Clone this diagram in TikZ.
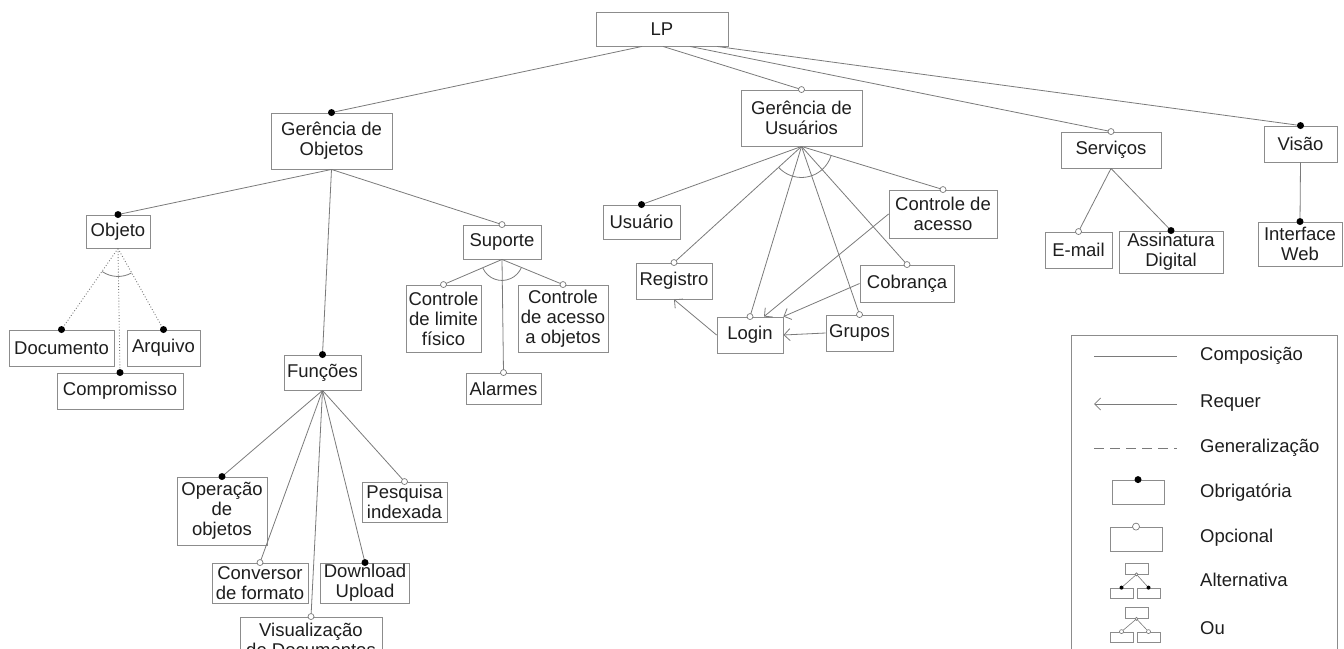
\documentclass[tikz,border=0pt]{standalone}
\usepackage{fontspec}
\setmainfont{Liberation Sans}
\usetikzlibrary{arrows.meta,calc}
\definecolor{edgegray}{HTML}{7A7A7A}
\definecolor{framegray}{HTML}{8C8C8C}
\definecolor{ink}{HTML}{1E1E1E}
\begin{document}
\begin{tikzpicture}[x=1pt,y=-1pt,
  feat/.style={draw=framegray, line width=0.9pt, fill=white, inner sep=0pt,
    align=center, text=ink, font=\fontsize{18.5}{20}\selectfont},
  mini/.style={draw=framegray, line width=0.8pt, fill=white, inner sep=0pt},
  comp/.style={draw=edgegray, line width=0.8pt},
  gen/.style={draw=edgegray, line width=0.9pt, dotted},
  req/.style={draw=edgegray, line width=0.8pt, -{Straight Barb[length=6pt,width=12pt]}},
  grp/.style={draw=edgegray, line width=0.8pt},
  mand/.style={circle, fill=black, inner sep=0pt, minimum size=7pt},
  opt/.style={circle, draw=edgegray, fill=white, inner sep=0pt, minimum size=6pt, line width=0.7pt},
  smand/.style={circle, fill=black, inner sep=0pt, minimum size=4pt},
  sopt/.style={circle, draw=edgegray, fill=white, inner sep=0pt, minimum size=4pt, line width=0.6pt},
  legtext/.style={anchor=west, inner sep=0pt, text=ink, font=\fontsize{18.5}{20}\selectfont}
]
\useasboundingbox (0,0) rectangle (1344,648);
\clip (0,0) rectangle (1344,648);

% ---------- feature boxes ----------
\node[feat, minimum width=132pt, minimum height=34pt] (lp) at (662,29) {LP};

\node[feat, minimum width=121pt, minimum height=56pt] (gobj) at (331.5,141) {Gerência de\\ Objetos};
\node[feat, minimum width=121pt, minimum height=56pt] (gusr) at (801.5,118) {Gerência de\\Usuários};
\node[feat, minimum width=100pt, minimum height=36pt] (serv) at (1111,150) {Serviços};
\node[feat, minimum width=73pt, minimum height=36pt] (visao) at (1300.5,144) {Visão};

\node[feat, minimum width=84pt, minimum height=44pt] (iweb) at (1300,244) {Interface\\Web};
\node[feat, minimum width=67pt, minimum height=36pt] (email) at (1078.5,250) {E-mail};
\node[feat, minimum width=104pt, minimum height=42pt] (assin) at (1171,252) {Assinatura\\Digital};

\node[feat, minimum width=64pt, minimum height=33pt] (objeto) at (118,231.5) {Objeto};
\node[feat, minimum width=105pt, minimum height=36pt] (docum) at (61.5,348) {Documento};
\node[feat, minimum width=73pt, minimum height=36pt] (arquivo) at (163.5,348) {Arquivo};
\node[feat, minimum width=126pt, minimum height=36pt] (compr) at (120,391) {Compromisso};

\node[feat, minimum width=78pt, minimum height=34pt] (suporte) at (502,242) {Suporte};
\node[feat, minimum width=75pt, minimum height=67pt] (climf) at (443.5,318.5) {Controle\\de limite\\físico};
\node[feat, minimum width=90pt, minimum height=67pt] (cacobj) at (563,318.5) {Controle\\de acesso\\a objetos};
\node[feat, minimum width=75pt, minimum height=31pt] (alarm) at (503.5,388.5) {Alarmes};

\node[feat, minimum width=77pt, minimum height=35pt] (func) at (322.5,372.5) {Funções};
\node[feat, minimum width=90pt, minimum height=68pt] (operobj) at (222,511) {Operação\\de\\objetos};
\node[feat, minimum width=85pt, minimum height=40pt] (pesq) at (404.5,502) {Pesquisa\\indexada};
\node[feat, minimum width=96pt, minimum height=40pt] (conv) at (260,583) {Conversor\\de formato};
\node[feat, minimum width=89pt, minimum height=40pt] (downup) at (365,583) {Download\\Upload};
\node[feat, minimum width=142pt, minimum height=45pt] (visdoc) at (311,639.5) {Visualização\\de Documentos};

\node[feat, minimum width=77pt, minimum height=34pt] (usuario) at (641.5,222) {Usuário};
\node[feat, minimum width=76pt, minimum height=36pt] (registro) at (674,281) {Registro};
\node[feat, minimum width=66pt, minimum height=36pt] (login) at (750,335) {Login};
\node[feat, minimum width=67pt, minimum height=36pt] (grupos) at (859.5,333) {Grupos};
\node[feat, minimum width=94pt, minimum height=37pt] (cobr) at (907,283.5) {Cobrança};
\node[feat, minimum width=108pt, minimum height=48pt] (cacesso) at (943,214) {Controle de\\acesso};

% ---------- composition edges ----------
\coordinate (lpa) at ([xshift=-20pt]lp.south);
\coordinate (lpb) at ([xshift=1pt]lp.south);
\coordinate (lpc) at ([xshift=28pt]lp.south);
\coordinate (lpd) at ([xshift=55pt]lp.south);
\draw[comp] (lpa) -- (gobj.north);
\draw[comp] (lpb) -- (gusr.north);
\draw[comp] (lpc) -- (serv.north);
\draw[comp] (lpd) -- (visao.north);

\draw[comp] (serv.south) -- (email.north);
\draw[comp] (serv.south) -- (assin.north);
\draw[comp] (visao.south) -- (iweb.north);

\draw[comp] (gobj.south) -- (objeto.north);
\draw[comp] (gobj.south) -- (func.north);
\draw[comp] (gobj.south) -- (suporte.north);

\draw[comp] (suporte.south) -- (climf.north);
\draw[comp] (suporte.south) -- (cacobj.north);
\draw[comp] (suporte.south) -- (alarm.north);
\draw[grp] ([shift={(204:21pt)}]suporte.south) arc[start angle=204, end angle=337, radius=21pt];

\draw[comp] (func.south) -- (operobj.north);
\draw[comp] (func.south) -- (conv.north);
\draw[comp] (func.south) -- (visdoc.north);
\draw[comp] (func.south) -- (downup.north);
\draw[comp] (func.south) -- (pesq.north);

\draw[comp] (gusr.south) -- (usuario.north);
\draw[comp] (gusr.south) -- (registro.north);
\draw[comp] (gusr.south) -- (login.north);
\draw[comp] (gusr.south) -- (grupos.north);
\draw[comp] (gusr.south) -- (cobr.north);
\draw[comp] (gusr.south) -- (cacesso.north);
\draw[grp] ([shift={(222.5:31pt)}]gusr.south) arc[start angle=222.5, end angle=342.7, radius=31pt];

% ---------- generalization edges ----------
\draw[gen] (objeto.south) -- (docum.north);
\draw[gen] (objeto.south) -- (compr.north);
\draw[gen] (objeto.south) -- (arquivo.north);
\draw[grp] ([shift={(235.4:28pt)}]objeto.south) arc[start angle=235.4, end angle=299, radius=28pt];

% ---------- requires edges ----------
\draw[req] (login.west) -- (registro.south);
\draw[req] (cacesso.west) -- ([xshift=14pt]login.north);
\draw[req] (cobr.west) -- (login.north east);
\draw[req] (grupos.west) -- (login.east);

% ---------- mandatory / optional markers ----------
\node[mand] (m-gobj) at (gobj.north) {};
\node[opt]  (m-gusr) at (gusr.north) {};
\node[opt]  (m-serv) at (serv.north) {};
\node[mand] (m-visao) at (visao.north) {};
\node[mand] (m-iweb) at (iweb.north) {};
\node[opt]  (m-email) at (email.north) {};
\node[mand] (m-assin) at (assin.north) {};
\node[mand] (m-objeto) at (objeto.north) {};
\node[mand] (m-docum) at (docum.north) {};
\node[mand] (m-arquivo) at (arquivo.north) {};
\node[mand] (m-compr) at (compr.north) {};
\node[opt]  (m-suporte) at (suporte.north) {};
\node[opt]  (m-climf) at (climf.north) {};
\node[opt]  (m-cacobj) at (cacobj.north) {};
\node[opt]  (m-alarm) at (alarm.north) {};
\node[mand] (m-func) at (func.north) {};
\node[mand] (m-operobj) at (operobj.north) {};
\node[opt]  (m-pesq) at (pesq.north) {};
\node[opt]  (m-conv) at (conv.north) {};
\node[mand] (m-downup) at (downup.north) {};
\node[opt]  (m-visdoc) at (visdoc.north) {};
\node[mand] (m-usuario) at (usuario.north) {};
\node[opt]  (m-registro) at (registro.north) {};
\node[opt]  (m-login) at (login.north) {};
\node[opt]  (m-grupos) at (grupos.north) {};
\node[opt]  (m-cobr) at (cobr.north) {};
\node[opt]  (m-cacesso) at (cacesso.north) {};

% ---------- legend ----------
\node[draw=framegray, line width=0.9pt, inner sep=0pt, minimum width=266pt, minimum height=330pt] (legend) at (1204,500) {};

\coordinate (lc1) at (1094,356);
\coordinate (lc2) at (1177,356);
\draw[comp] (lc1) -- (lc2);
\node[legtext] (t-comp) at (1200,356) {Composição};

\coordinate (lr1) at (1177,404);
\coordinate (lr2) at (1094,404);
\draw[req] (lr1) -- (lr2);
\node[legtext] (t-req) at (1200,403) {Requer};

\coordinate (lg1) at (1094,448);
\coordinate (lg2) at (1177,448);
\draw[draw=edgegray, line width=0.8pt, dash pattern=on 10pt off 6pt] (lg1) -- (lg2);
\node[legtext] (t-gen) at (1200,448) {Generalização};

\node[mini, minimum width=52pt, minimum height=24pt] (k-mand) at (1138,492) {};
\node[mand] (k-mand-dot) at (k-mand.north) {};
\node[legtext] (t-mand) at (1200,493) {Obrigatória};

\node[mini, minimum width=52pt, minimum height=24pt] (k-opt) at (1136,539) {};
\node[opt, minimum size=7pt] (k-opt-dot) at (k-opt.north) {};
\node[legtext] (t-opt) at (1200,538) {Opcional};

% alternative group icon
\node[mini, minimum width=23pt, minimum height=11pt] (ka-top) at (1136.5,568.5) {};
\node[mini, minimum width=23pt, minimum height=10pt] (ka-l) at (1121.5,593) {};
\node[mini, minimum width=23pt, minimum height=10pt] (ka-r) at (1148.5,593) {};
\draw[grp, line width=0.6pt] (ka-top.south) -- (ka-l.north);
\draw[grp, line width=0.6pt] (ka-top.south) -- (ka-r.north);
\node[sopt, minimum size=3pt] (ka-j) at (ka-top.south) {};
\node[smand] (ka-ld) at (ka-l.north) {};
\node[smand] (ka-rd) at (ka-r.north) {};
\node[legtext] (t-alt) at (1200,580) {Alternativa};

% or group icon
\node[mini, minimum width=23pt, minimum height=11pt] (ko-top) at (1136.5,613) {};
\node[mini, minimum width=23pt, minimum height=10pt] (ko-l) at (1121.5,637) {};
\node[mini, minimum width=23pt, minimum height=10pt] (ko-r) at (1148.5,637) {};
\draw[grp, line width=0.6pt] (ko-top.south) -- (ko-l.north);
\draw[grp, line width=0.6pt] (ko-top.south) -- (ko-r.north);
\node[sopt, minimum size=3pt] (ko-j) at (ko-top.south) {};
\node[sopt] (ko-ld) at (ko-l.north) {};
\node[sopt] (ko-rd) at (ko-r.north) {};
\node[legtext] (t-or) at (1200,628) {Ou};
\end{tikzpicture}
\end{document}
